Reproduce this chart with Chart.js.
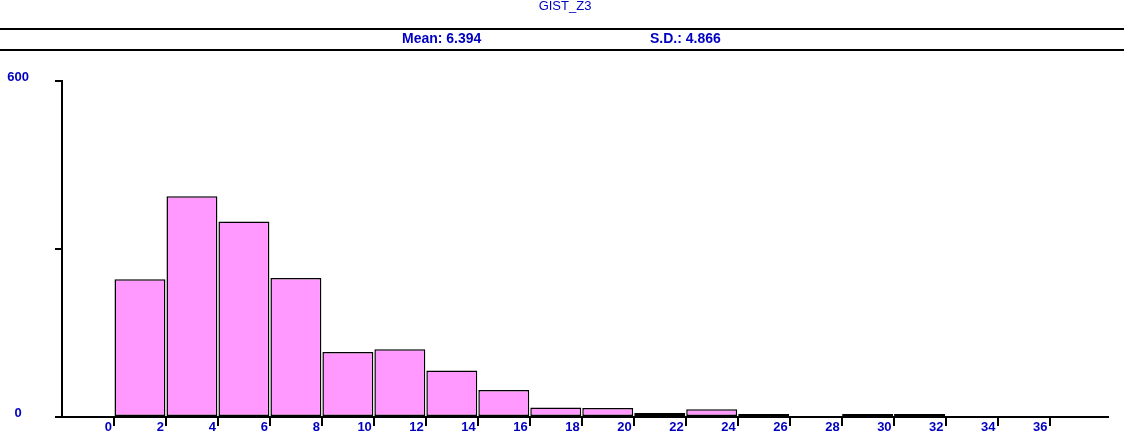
<!DOCTYPE html>
<html>
<head>
<meta charset="utf-8">
<script src="https://cdn.jsdelivr.net/npm/chart.js@4/dist/chart.umd.min.js"></script>
<style>
  html, body { margin: 0; padding: 0; background: #fff; }
  #wrap { width: 1124px; height: 445px; position: relative; }
</style>
</head>
<body>
<div id="wrap"><canvas id="ch-hist"></canvas></div>
<script>
/* histogram GIST_Z3 — bins de largura 2 */

const title  = 'GIST_Z3';
const mean   = 6.394;
const sd     = 4.866;
const binLo  = [0, 2, 4, 6, 8, 10, 12, 14, 16, 18, 20, 22, 24, 26, 28, 30, 32, 34];
const counts = [246, 394, 349, 248, 116, 121, 83, 48, 17, 16, 7, 14, 3, 0, 1, 1, 0, 0];
const binW   = 2;
const yMax   = 600;
const yStep  = 300;

const BLUE = '#0000C0';
const FONT = '"Liberation Sans", Arial, sans-serif';

// cabeçalho: título + linha de média / desvio
const header = {
  id: 'header',
  afterDraw(chart) {
    const { ctx, width } = chart;
    ctx.save();
    ctx.fillStyle = '#000';
    ctx.fillRect(0, 28, width, 2);
    ctx.fillRect(0, 49, width, 2);
    ctx.fillStyle = BLUE;
    ctx.textBaseline = 'middle';
    ctx.font = '13px ' + FONT;
    ctx.textAlign = 'center';
    ctx.fillText(title, width / 2 + 3, 6);
    ctx.font = 'bold 14px ' + FONT;
    ctx.textAlign = 'left';
    ctx.fillText('Mean: ' + mean.toFixed(3), 402, 39);
    ctx.fillText('S.D.: ' + sd.toFixed(3), 650, 39);
    ctx.restore();
  }
};

const tickFont = { family: FONT, size: 13, weight: 'bold' };

new Chart(document.getElementById('ch-hist'), {
  type: 'bar',
  data: {
    datasets: [{
      data: binLo.map((lo, i) => ({ x: lo + binW / 2, y: counts[i] || null })),
      backgroundColor: '#FF99FF',
      borderColor: '#000',
      borderWidth: 1.5,
      borderSkipped: false,
      barPercentage: 0.98,
      categoryPercentage: 1,
      minBarLength: 3,
    }]
  },
  options: {
    responsive: true,
    maintainAspectRatio: false,
    animation: false,
    layout: { padding: { top: 81, right: 16, bottom: 0, left: 0 } },
    plugins: { legend: { display: false }, tooltip: { enabled: false } },
    scales: {
      x: {
        type: 'linear',
        min: -binW,
        max: 38.25,
        offset: false,
        afterFit: s => { s.height = 28; },
        border: { display: true, color: '#000', width: 2, z: 1 },
        grid: { offset: false, drawOnChartArea: false, drawTicks: true, tickLength: 9, color: '#000', lineWidth: 2 },
        ticks: {
          stepSize: binW,
          includeBounds: false,
          autoSkip: false,
          maxRotation: 0,
          align: 'end',
          labelOffset: -2,
          padding: -6,
          color: BLUE,
          font: tickFont,
          callback: v => (v < 0 || v > 36) ? null : v
        }
      },
      y: {
        min: 0,
        max: yMax,
        afterFit: s => { s.width = 62; s.paddingTop = 0; s.paddingBottom = 0; },
        border: { display: true, color: '#000', width: 2, z: 1 },
        grid: { drawOnChartArea: false, drawTicks: true, tickLength: 7, color: '#000', lineWidth: 2 },
        ticks: {
          stepSize: yStep,
          crossAlign: 'center',
          padding: 26,
          labelOffset: -4,
          color: BLUE,
          font: tickFont,
          callback: v => (v === 0 || v === yMax) ? String(v) : ''
        }
      }
    }
  },
  plugins: [header]
});
</script>
</body>
</html>
